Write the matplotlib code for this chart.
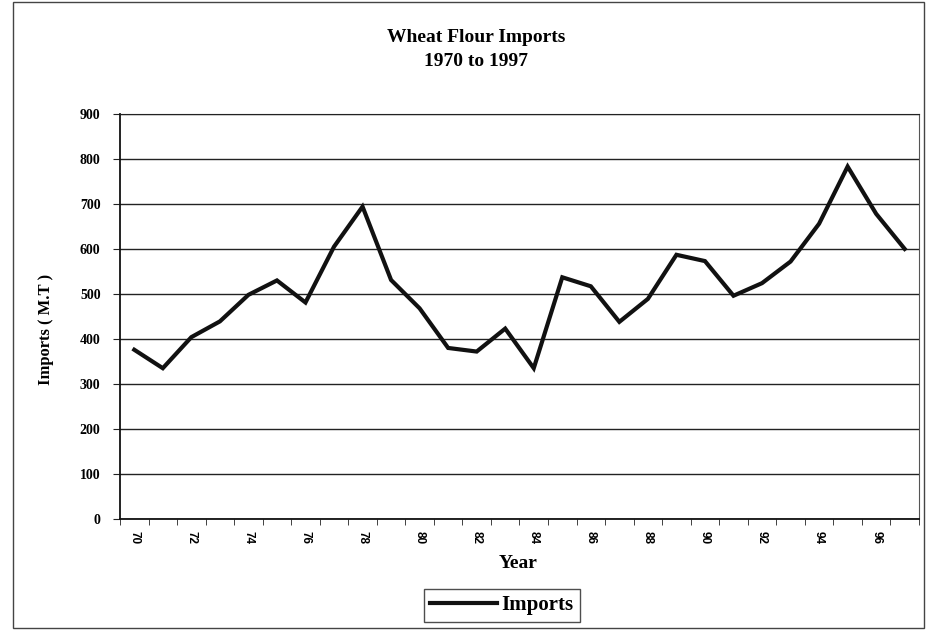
import matplotlib
matplotlib.use("Agg")
import matplotlib.pyplot as plt
import numpy as np
from matplotlib.patches import Rectangle

years = list(range(70, 98))
imports = [376, 335, 404, 439, 498, 530, 481, 605, 694, 531, 468, 380, 372, 423,
           335, 537, 517, 438, 489, 587, 573, 496, 524, 572, 656, 783, 678, 600]
yticks = [0, 100, 200, 300, 400, 500, 600, 700, 800, 900]

plt.rcParams['font.family'] = ['Liberation Serif', 'DejaVu Serif']

fig = plt.figure(figsize=(9.26, 6.3), dpi=100)
ax = fig.add_axes([0.1296, 0.1762, 0.8628, 0.643])

x = np.arange(len(years))
line, = ax.plot(x, imports, color='#111111', linewidth=3.0, solid_joinstyle='miter',
                label='Imports')

ax.set_xlim(-0.5, len(years) - 0.5)
ax.set_ylim(0, 900)
ax.set_yticks(yticks)
ax.set_yticklabels([str(v) for v in yticks], fontsize=10, fontweight='bold')
ax.yaxis.grid(True, color='#222222', linewidth=1.0)
ax.set_axisbelow(True)

# category boundary ticks
ax.set_xticks(np.arange(-0.5, len(years), 1.0), minor=True)
ax.set_xticks(x[::2])
ax.set_xticklabels([str(y) for y in years[::2]], rotation=-90, fontsize=8.5,
                   fontweight='bold', family=['Liberation Sans', 'DejaVu Sans'])
ax.tick_params(axis='x', which='major', length=0, pad=9)
ax.tick_params(axis='x', which='minor', length=4, direction='out', color='#222222')
ax.tick_params(axis='y', length=5, direction='out', color='#222222', pad=9)

for s in ['left', 'bottom']:
    ax.spines[s].set_color('#111111')
    ax.spines[s].set_linewidth(1.3)
ax.spines['top'].set_color('#222222')
ax.spines['right'].set_color('#555555')

ax.set_xlabel('Year', fontsize=14, fontweight='bold')
ax.xaxis.set_label_coords(0.498, -0.088)
ax.set_ylabel('Imports ( M.T )', fontsize=12, fontweight='bold')
ax.yaxis.set_label_coords(-0.082, 0.467)

fig.text(0.514, 0.94, 'Wheat Flour Imports', ha='center', va='center',
         fontsize=14, fontweight='bold')
fig.text(0.514, 0.902, '1970 to 1997', ha='center', va='center',
         fontsize=14, fontweight='bold')

leg = fig.legend(handles=[line], loc='center', bbox_to_anchor=(0.542, 0.039),
                 frameon=True, fancybox=False, edgecolor='#222222',
                 handlelength=3.2, handletextpad=0.2, borderpad=0.3,
                 prop={'weight': 'bold', 'size': 15})
leg.get_frame().set_linewidth(1.0)

fig.patches.append(Rectangle((0.014, 0.003), 0.984, 0.994, transform=fig.transFigure,
                             fill=False, edgecolor='#444444', linewidth=1.0))

fig.savefig('out.png', dpi=100, facecolor='white')
